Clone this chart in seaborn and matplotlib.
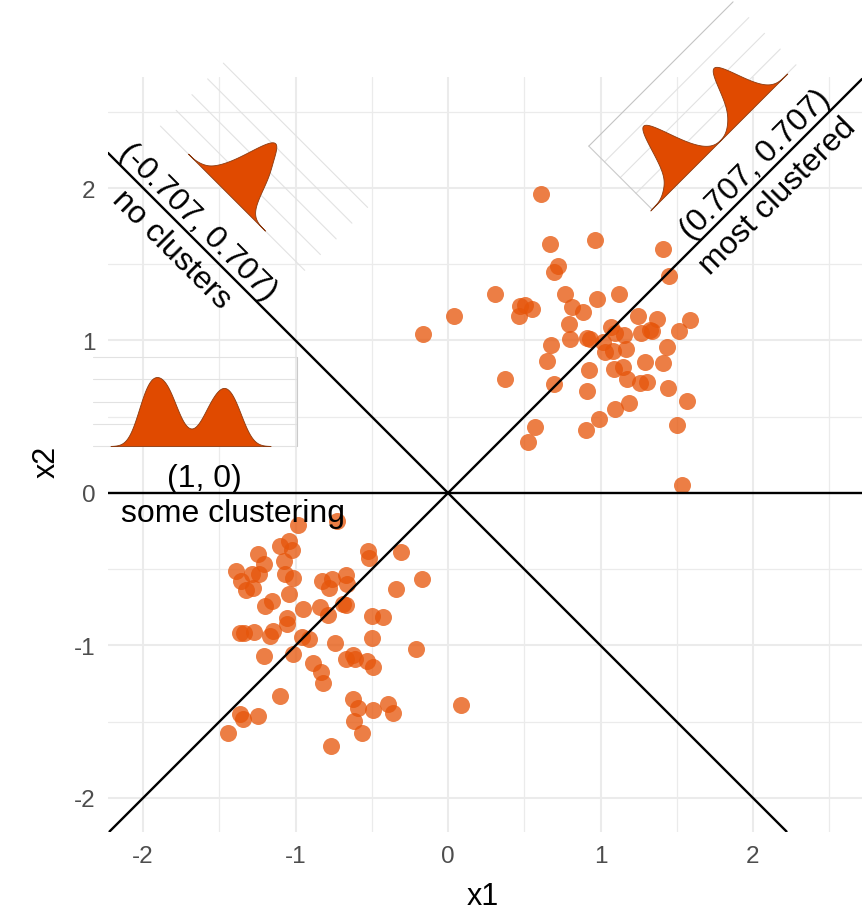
import numpy as np
import pandas as pd
import matplotlib
matplotlib.use("Agg")
import matplotlib.pyplot as plt
from matplotlib.transforms import Affine2D
from matplotlib.ticker import MultipleLocator
import seaborn as sns

# ---------------- data ----------------
upper_x1 = [0.610, 0.669, 0.964, 1.407, 0.723, 0.698, 1.452, 0.308, 0.765, 0.974,
            1.123, 0.039, 0.472, 0.505, 0.551, 0.468, 0.816, 0.887, 1.248, 1.370,
            1.587, -0.162, 0.795, 0.802, 0.910, 0.928, 1.069, 1.098, 1.154, 1.268,
            1.325, 1.338, 1.516, 0.675, 0.647, 1.018, 1.030, 1.084, 1.167, 1.438,
            0.927, 1.089, 1.150, 1.292, 1.412, 0.374, 0.695, 0.911, 1.174, 1.259,
            1.308, 1.441, 1.567, 1.095, 1.189, 0.992, 0.904, 1.502, 0.570, 0.523,
            1.532]
upper_x2 = [1.961, 1.633, 1.659, 1.597, 1.487, 1.451, 1.426, 1.305, 1.307, 1.275,
            1.305, 1.163, 1.228, 1.230, 1.209, 1.159, 1.220, 1.185, 1.161, 1.138,
            1.134, 1.043, 1.108, 1.010, 1.014, 1.010, 1.087, 1.052, 1.039, 1.051,
            1.066, 1.059, 1.064, 0.969, 0.868, 0.988, 0.923, 0.933, 0.942, 0.957,
            0.808, 0.815, 0.828, 0.859, 0.850, 0.748, 0.715, 0.671, 0.746, 0.721,
            0.731, 0.687, 0.605, 0.553, 0.590, 0.485, 0.414, 0.449, 0.431, 0.336,
            0.050]
lower_x1 = [-0.982, -0.731, -1.102, -1.045, -1.025, -1.244, -1.209, -1.077, -1.393, -1.357,
            -1.284, -1.237, -1.328, -1.279, -1.069, -1.014, -0.828, -0.763, -0.782, -0.667,
            -0.664, -0.525, -0.516, -0.306, -0.341, -0.172, -1.045, -1.200, -1.156, -0.949,
            -0.837, -0.785, -0.687, -0.672, -1.054, -1.058, -0.500, -0.428, -1.367, -1.341,
            -1.271, -1.167, -1.146, -0.959, -0.913, -0.738, -0.500, -0.213, -1.209, -1.016,
            -0.883, -0.834, -0.820, -0.672, -0.621, -0.613, -0.531, -0.494, -1.104, -0.621,
            -0.588, -0.492, -0.391, -0.361, -0.618, -0.562, -1.367, -1.342, -1.244, -1.441,
            -0.769, 0.085]
lower_x2 = [-0.207, -0.182, -0.346, -0.313, -0.374, -0.403, -0.469, -0.446, -0.510, -0.575,
            -0.531, -0.534, -0.634, -0.625, -0.534, -0.559, -0.575, -0.567, -0.620, -0.538,
            -0.597, -0.382, -0.425, -0.389, -0.631, -0.566, -0.662, -0.741, -0.706, -0.761,
            -0.748, -0.800, -0.725, -0.734, -0.818, -0.856, -0.809, -0.815, -0.915, -0.918,
            -0.910, -0.936, -0.908, -0.943, -0.957, -0.987, -0.953, -1.021, -1.069, -1.056,
            -1.115, -1.172, -1.244, -1.090, -1.061, -1.089, -1.100, -1.143, -1.329, -1.349,
            -1.412, -1.421, -1.384, -1.443, -1.496, -1.572, -1.449, -1.482, -1.464, -1.577,
            -1.661, -1.390]

direction_names = ["(1, 0)", "(-0.707, 0.707)", "(0.707, 0.707)"]
direction_vecs = [(1.0, 0.0), (-0.707, 0.707), (0.707, 0.707)]
direction_desc = ["some clustering", "no clusters", "most clustered"]
tick_values = [-2, -1, 0, 1, 2]

# ---------------- style ----------------
DOT = "#E6550A"
FILL = "#E04A00"
GRID = "#EBEBEB"
XLIM = (-2.23, 2.715)
YLIM = (-2.22, 2.728)
AX_W_PX = 754.0
PX = (XLIM[1] - XLIM[0]) / AX_W_PX      # data units per pixel

sns.set_theme(style="white")
plt.rcParams["font.family"] = ["Liberation Sans", "DejaVu Sans"]

fig = plt.figure(figsize=(8.66, 9.12), dpi=100)
ax = fig.add_axes([108 / 866, 79.5 / 912, 754 / 866, 754.5 / 912])

pts = pd.DataFrame({"x1": upper_x1 + lower_x1, "x2": upper_x2 + lower_x2})

sns.scatterplot(data=pts, x="x1", y="x2", ax=ax, color=DOT, alpha=0.76,
                s=150, linewidth=0, zorder=3, legend=False)

for slope in (1, -1, 0):
    ax.axline((0, 0), slope=slope, color="black", lw=1.7, zorder=4)

# ---------------- rotated density insets ----------------
W, H = 204, 89          # inset panel size in px
U0, S = 95, 34          # position of projection 0 and px per unit
inset_layout = [
    dict(origin=(-2.328, 0.308), eu=(1.0, 0.0), ev=(0.0, 1.0), peak=69, edge=W,
         bw=0.28, top="#E2E2E2"),
    dict(origin=(-1.886, 2.406), eu=(0.7071, -0.7071), ev=(0.7071, 0.7071), peak=69, edge=None,
         bw=0.20, top="#E2E2E2"),
    dict(origin=(1.336, 1.862), eu=(0.7071, 0.7071), ev=(-0.7071, 0.7071), peak=65, edge=0,
         bw=0.24, top="#C4C4C4"),
]

for vec, lay in zip(direction_vecs, inset_layout):
    ox, oy = lay["origin"]
    eu, ev = lay["eu"], lay["ev"]
    T_panel = Affine2D.from_values(eu[0] * PX, eu[1] * PX, ev[0] * PX, ev[1] * PX, ox, oy)
    tr_panel = T_panel + ax.transData
    for k in range(5):
        v = H * k / 4
        ax.plot([0, W], [v, v], transform=tr_panel,
                color=lay["top"] if k == 4 else "#E2E2E2", lw=0.8,
                clip_on=False, zorder=1)
    if lay["edge"] is not None:
        ax.plot([lay["edge"], lay["edge"]], [0, H], transform=tr_panel,
                color="#CACACA", lw=0.8, clip_on=False, zorder=1)

    proj = pts["x1"] * vec[0] + pts["x2"] * vec[1]
    sns.kdeplot(x=proj, ax=ax, fill=True, cut=3, bw_method=lay["bw"] / proj.std(),
                color=FILL, alpha=1, linewidth=0.6, edgecolor="#8a3a10", zorder=2)
    coll = ax.collections[-1]
    maxd = max(p.vertices[:, 1].max() for p in coll.get_paths())
    T_dens = Affine2D().scale(S, lay["peak"] / maxd).translate(U0, 0) + T_panel
    coll.set_transform(T_dens + ax.transData)
    coll.set_clip_on(False)

# ---------------- labels along the lines ----------------
label_layout = [
    # along, normal, rotation, t(px), n(px) of upper label, t(px), n(px) of lower label
    ((1.0, 0.0), (0.0, 1.0), 0, -244, 7, -215, -28),
    ((0.7071, -0.7071), (0.7071, 0.7071), -45, -369, 7, -368, -31),
    ((0.7071, 0.7071), (-0.7071, 0.7071), 45, 450, 7, 443, -31),
]
for name, desc, (al, nm, rot, t1, n1, t2, n2) in zip(direction_names, direction_desc, label_layout):
    for txt, t, n in ((name, t1, n1), (desc, t2, n2)):
        x = (t * al[0] + n * nm[0]) * PX
        y = (t * al[1] + n * nm[1]) * PX
        ax.text(x, y, txt, rotation=rot, rotation_mode="anchor", ha="center",
                va="baseline", fontsize=23.0, color="black", clip_on=False, zorder=5)

# ---------------- axes ----------------
ax.set_xlim(*XLIM)
ax.set_ylim(*YLIM)
ax.set_xticks(tick_values)
ax.set_yticks(tick_values)
ax.set_xticklabels([str(v) for v in tick_values])
ax.set_yticklabels([str(v) for v in tick_values])
ax.xaxis.set_minor_locator(MultipleLocator(0.5))
ax.yaxis.set_minor_locator(MultipleLocator(0.5))
ax.grid(which="major", color=GRID, lw=1.5)
ax.grid(which="minor", color=GRID, lw=0.9)
ax.set_axisbelow(True)
ax.tick_params(axis="both", which="both", length=0, labelsize=17.5, labelcolor="#4D4D4D")
ax.tick_params(axis="x", pad=10)
ax.tick_params(axis="y", pad=9)
for sp in ax.spines.values():
    sp.set_visible(False)
ax.set_xlabel("x1", fontsize=22, color="black")
ax.set_ylabel("x2", fontsize=22, color="black")
ax.xaxis.set_label_coords(0.497, -0.085)
ax.xaxis.label.set_va("center")
ax.yaxis.set_label_coords(-0.082, 0.491)
ax.yaxis.label.set_va("center")

fig.savefig("out.png", dpi=100)
